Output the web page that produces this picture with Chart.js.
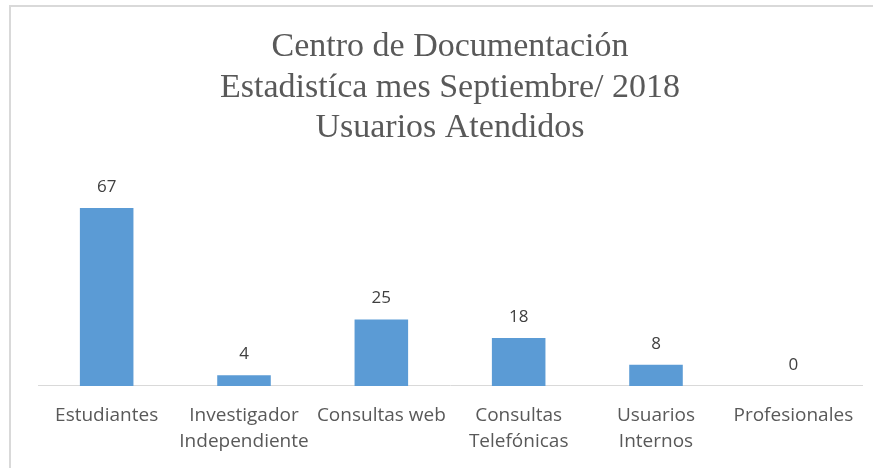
<!DOCTYPE html>
<html>
<head>
<meta charset="utf-8">
<script src="https://cdn.jsdelivr.net/npm/chart.js@4"></script>
<style>
  html, body { margin: 0; padding: 0; background: #fff; overflow: hidden; }
  #wrap { position: relative; width: 873px; height: 468px; }
  #frame { position: absolute; left: 9px; top: 5px; right: -10px; bottom: -10px;
           border-left: 2px solid #d9d9d9; border-top: 2px solid #d9d9d9; }
  canvas { position: absolute; left: 0; top: 0; }
</style>
</head>
<body>
<div id="wrap">
  <div id="frame"></div>
  <canvas id="chart" width="873" height="468"></canvas>
</div>
<script>
// ── Usuarios atendidos, septiembre 2018 ──
const titleLines = ['Centro de Documentación', 'Estadistíca mes Septiembre/ 2018', 'Usuarios Atendidos'];
const categories = [
  'Estudiantes',
  ['Investigador', 'Independiente'],
  'Consultas web',
  ['Consultas', 'Telefónicas'],
  ['Usuarios', 'Internos'],
  'Profesionales'
];
const usuarios = [67, 4, 25, 18, 8, 0];

const SANS = "'Open Sans', 'Liberation Sans', sans-serif";

// Value labels above each bar (no datalabels plugin available offline)
const valueLabels = {
  id: 'valueLabels',
  afterDatasetsDraw(chart) {
    const { ctx } = chart;
    const meta = chart.getDatasetMeta(0);
    ctx.save();
    ctx.fillStyle = '#404040';
    ctx.font = `17px ${SANS}`;
    ctx.textAlign = 'center';
    ctx.textBaseline = 'middle';
    meta.data.forEach((bar, i) => {
      ctx.fillText(String(usuarios[i]), bar.x, bar.y - 21);
    });
    ctx.restore();
  }
};

new Chart(document.getElementById('chart'), {
  type: 'bar',
  data: {
    labels: categories,
    datasets: [{
      data: usuarios,
      backgroundColor: '#5b9bd5',
      borderWidth: 0,
      barPercentage: 0.78,
      categoryPercentage: 0.5
    }]
  },
  options: {
    responsive: false,
    animation: false,
    layout: { padding: { left: 38, right: 11, top: 27, bottom: -4 } },
    plugins: {
      legend: { display: false },
      tooltip: { enabled: false },
      title: {
        display: true,
        text: titleLines,
        color: '#595959',
        font: { family: "'Liberation Serif', 'DejaVu Serif', serif", size: 34, weight: 'normal', lineHeight: 1.19 },
        padding: { top: 0, bottom: 25 }
      }
    },
    scales: {
      x: {
        grid: { display: false, drawTicks: false },
        border: { display: true, color: '#d9d9d9', width: 1 },
        ticks: {
          color: '#595959',
          font: { family: SANS, size: 19, lineHeight: 1.37 },
          maxRotation: 0,
          autoSkip: false,
          padding: 17
        }
      },
      y: {
        display: false,
        min: 0,
        max: 80
      }
    }
  },
  plugins: [valueLabels]
});
</script>
</body>
</html>
